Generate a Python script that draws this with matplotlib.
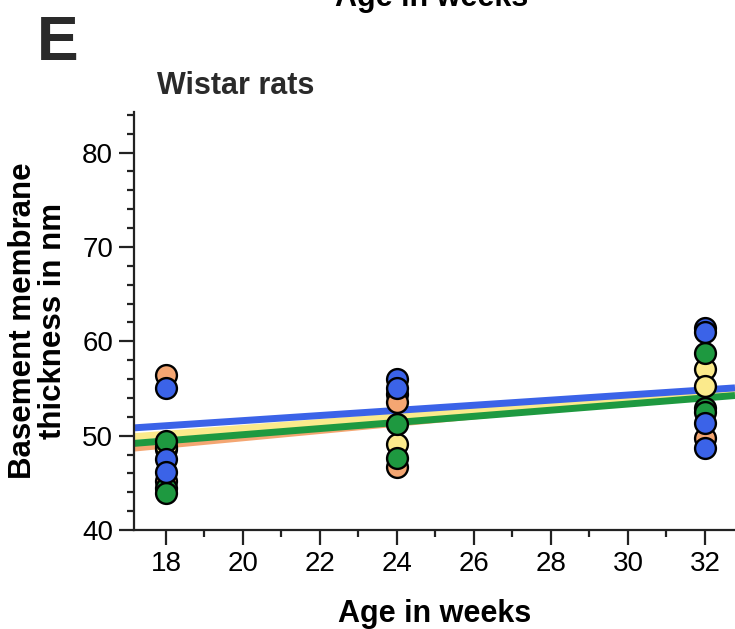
import matplotlib; matplotlib.use("Agg"); import matplotlib.pyplot as plt
from matplotlib.ticker import MultipleLocator

plt.rcParams['font.family'] = ['Liberation Sans', 'DejaVu Sans']

# scatter data per group (age in weeks, basement membrane thickness in nm)
orange_x = [18, 18, 18, 24, 24, 24, 32]
orange_y = [56.4, 45.2, 48.6, 54.4, 53.6, 46.7, 49.8]
yellow_x = [18, 24, 32, 32]
yellow_y = [48.8, 49.1, 57.1, 55.3]
green_x = [18, 18, 18, 24, 24, 32, 32, 32]
green_y = [49.4, 44.4, 43.9, 51.2, 47.6, 58.8, 52.9, 52.5]
blue_x = [18, 18, 18, 24, 24, 32, 32, 32, 32]
blue_y = [55.1, 47.5, 46.1, 56.0, 55.0, 61.4, 61.0, 51.3, 48.7]

# regression lines: value at 18 and at 32 weeks
fit_x = [18, 32]
orange_fit = [49.0, 54.4]
yellow_fit = [50.15, 54.5]
green_fit = [49.45, 54.0]
blue_fit = [51.05, 54.85]

c_orange, c_yellow, c_green, c_blue = "#F4A672", "#FBEA8C", "#1E9940", "#3B63E8"
groups = [(orange_x, orange_y, orange_fit, c_orange),
          (yellow_x, yellow_y, yellow_fit, c_yellow),
          (green_x, green_y, green_fit, c_green),
          (blue_x, blue_y, blue_fit, c_blue)]

fig = plt.figure(figsize=(7.35, 6.29), dpi=100)
ax = fig.add_axes([134/735, 1-530/629, 1-134/735, (530-112)/629])

for gx, gy, fit, col in groups:
    ax.axline((fit_x[0], fit[0]), (fit_x[1], fit[1]), color=col, lw=5, zorder=2, solid_capstyle="butt")
for gx, gy, fit, col in groups:
    ax.scatter(gx, gy, s=225, color=col, edgecolor="black", linewidth=1.7, zorder=3, clip_on=False)

ax.set_xlim(17.17, 32.78)
ax.set_ylim(40, 84.3)
ax.xaxis.set_major_locator(MultipleLocator(2)); ax.xaxis.set_minor_locator(MultipleLocator(1))
ax.yaxis.set_major_locator(MultipleLocator(10)); ax.yaxis.set_minor_locator(MultipleLocator(2))
for s in ["top", "right"]: ax.spines[s].set_visible(False)
for s in ["left", "bottom"]: ax.spines[s].set_linewidth(1.6); ax.spines[s].set_color("#222222")
ax.tick_params(which="major", length=11, width=1.6, labelsize=20, color="#222222", pad=4)
ax.tick_params(which="minor", length=5, width=1.6, color="#222222")

ax.set_xlabel("Age in weeks", fontsize=22, fontweight="bold", labelpad=16)
ax.set_ylabel("Basement membrane\nthickness in nm", fontsize=22.5, fontweight="bold", labelpad=10, linespacing=1.0)

fig.text(37/735, 1-60/629, "E", fontsize=45, fontweight="bold", color="#2a2a2a", va="baseline")
fig.text(157/735, 1-94/629, "Wistar rats", fontsize=22, fontweight="bold", color="#2a2a2a", va="baseline")
fig.text(432/735, 1-6/629, "Age in weeks", fontsize=22, fontweight="bold", ha="center", va="baseline")

fig.savefig("out.png", dpi=100)
